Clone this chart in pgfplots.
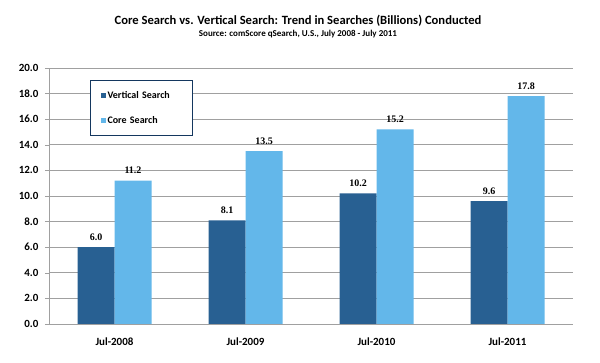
\documentclass[border=0pt]{standalone}
\usepackage{pgfplots}
\pgfplotsset{compat=1.18}
\usepackage{fontspec}
\setmainfont{Carlito}
\newfontfamily\lbl{Liberation Serif}
\definecolor{vdark}{RGB}{40,96,146}
\definecolor{clight}{RGB}{99,183,234}
\definecolor{gridg}{RGB}{160,160,160}
\definecolor{legb}{RGB}{20,55,95}
\begin{document}
\begin{tikzpicture}[x=1pt,y=1pt]
\path[use as bounding box] (-49,-39) rectangle (551,324);
\begin{axis}[
  at={(0,0)}, anchor=south west,
  scale only axis, width=524pt, height=256pt,
  ybar=0pt, bar width=37pt,
  xmin=-0.5, xmax=3.5, ymin=0, ymax=20,
  xtick={0,1,2,3},
  xticklabels={Jul-2008,Jul-2009,Jul-2010,Jul-2011},
  major x tick style={draw=none},
  extra x ticks={-0.5,0.5,1.5,2.5,3.5},
  extra x tick labels={},
  extra x tick style={major tick length=4pt, tick style={draw=gridg}, tick align=outside, grid=none},
  ytick={0,2,...,20},
  ymajorgrids, grid style={gridg, line width=0.8pt},
  axis lines*=left,
  axis line style={gridg, line width=0.8pt},
  y tick style={gridg}, tick align=outside, major tick length=4pt,
  yticklabel style={/pgf/number format/fixed, /pgf/number format/fixed zerofill, /pgf/number format/precision=1, font=\bfseries\fontsize{11}{12}\selectfont, text=black, xshift=-3pt},
  xticklabel style={font=\bfseries\fontsize{11}{12}\selectfont, yshift=-6pt},
  /pgf/number format/assume math mode=true,
  nodes near coords,
  nodes near coords style={font=\lbl\bfseries\fontsize{10}{11}\selectfont, /pgf/number format/fixed, /pgf/number format/fixed zerofill, /pgf/number format/precision=1, yshift=3pt},
  legend style={at={(0.078,0.953)}, anchor=north west, draw=legb, line width=1.3pt,
    font=\bfseries\fontsize{10}{11}\selectfont, inner xsep=10pt, inner ysep=9pt, row sep=12pt, text width=73pt},
  legend cell align=left,
  legend image code/.code={\fill[#1, draw=none] (0pt,-2.5pt) rectangle (5pt,2.5pt);},
]
\addplot[fill=vdark, draw=none] coordinates {(0,6.0) (1,8.1) (2,10.2) (3,9.6)};
\addplot[fill=clight, draw=none] coordinates {(0,11.2) (1,13.5) (2,15.2) (3,17.8)};
\legend{Vertical Search, Core Search}
\end{axis}
\node[font=\bfseries\fontsize{12.6}{14}\selectfont] at (249,303) {Core Search vs. Vertical Search: Trend in Searches (Billions) Conducted};
\node[font=\bfseries\fontsize{9}{10}\selectfont] at (249,290) {Source: comScore qSearch, U.S., July 2008 - July 2011};
\end{tikzpicture}
\end{document}
